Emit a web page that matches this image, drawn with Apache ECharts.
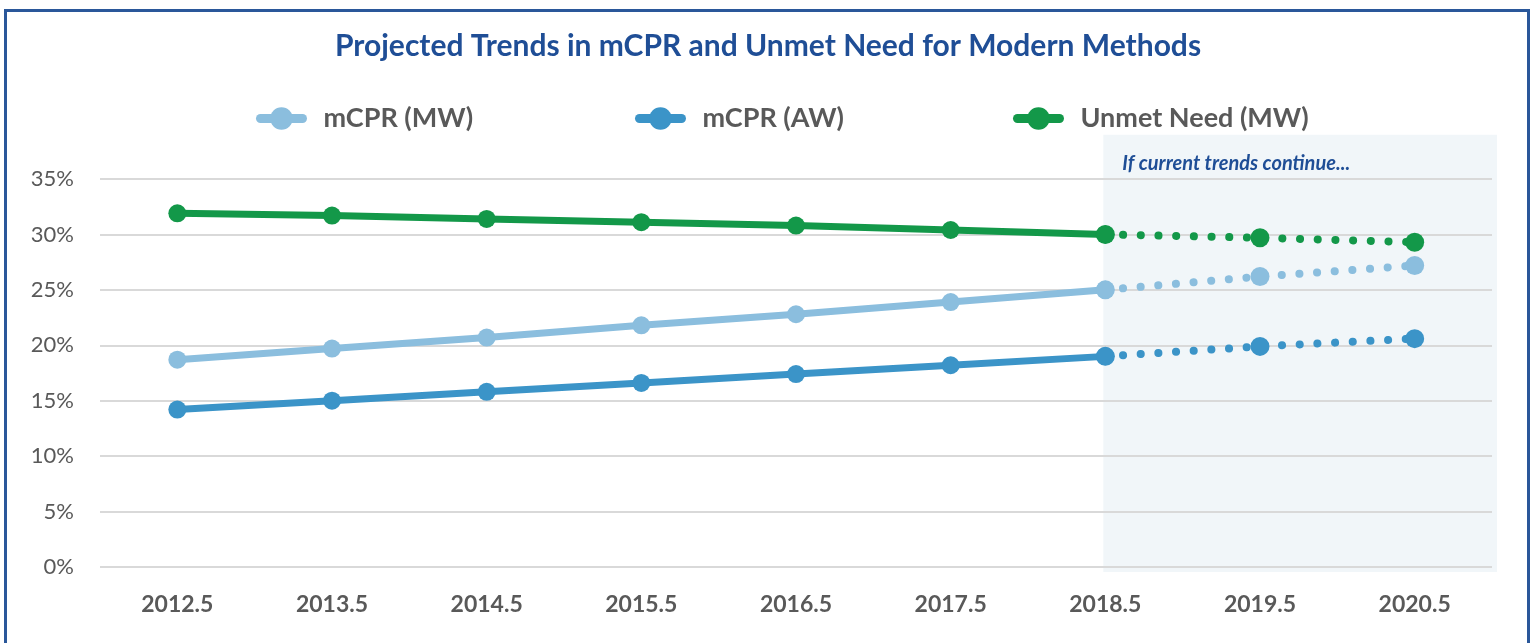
<!DOCTYPE html>
<html>
<head>
<meta charset="utf-8">
<script src="https://cdn.jsdelivr.net/npm/echarts@6/dist/echarts.min.js"></script>
<style>
html,body{margin:0;padding:0;background:#fff;}
#c{width:1536px;height:643px;}
</style>
</head>
<body>
<div id="c"></div>
<script>
const years = ['2012.5','2013.5','2014.5','2015.5','2016.5','2017.5','2018.5','2019.5','2020.5'];
const mcprMW = [18.7, 19.7, 20.7, 21.8, 22.8, 23.9, 25.0, 26.2, 27.2];
const mcprAW = [14.2, 15.0, 15.8, 16.6, 17.4, 18.2, 19.0, 19.9, 20.6];
const unmetMW = [31.9, 31.7, 31.4, 31.1, 30.8, 30.4, 30.0, 29.7, 29.3];
const yTicks = [0, 5, 10, 15, 20, 25, 30, 35];
const projectionStart = 6; // index of '2018.5'
const seriesNames = ['mCPR (MW)', 'mCPR (AW)', 'Unmet Need (MW)'];
const titleText = 'Projected Trends in mCPR and Unmet Need for Modern Methods';
const noteText = 'If current trends continue...';

const colors = ['#8BBEDE', '#3B94C8', '#139849'];
const FONT = 'Lato';

function actual(arr){ return arr.map((v,i)=> i<=projectionStart ? v : null); }
function projected(arr){ return arr.map((v,i)=> i>=projectionStart ? v : null); }

const dataSets = [mcprMW, mcprAW, unmetMW];
const series = [];
dataSets.forEach((arr, k) => {
  series.push({
    name: seriesNames[k], type: 'line', data: actual(arr),
    symbol: 'circle', symbolSize: 18, z: 3 + k,
    itemStyle: {color: colors[k]},
    lineStyle: {color: colors[k], width: 7},
    animation: false
  });
  series.push({
    name: seriesNames[k], type: 'line', data: projected(arr),
    symbol: 'circle', symbolSize: 19, z: 3 + k,
    itemStyle: {color: colors[k]},
    lineStyle: {color: colors[k], width: 8, type: [0.1, 17.6], cap: 'round'},
    animation: false
  });
});

const legendLefts = [251, 630, 1008];
const legends = seriesNames.map((n, i) => ({
  data: [n], left: legendLefts[i], top: 100,
  itemWidth: 42, itemHeight: 28,
  lineStyle: {width: 9, cap: 'round'},
  textStyle: {fontFamily: FONT, fontWeight: 'bold', fontSize: 27, color: '#595959', padding: [0,0,0,16]},
  selectedMode: false
}));

const chart = echarts.init(document.getElementById('c'), null, {renderer: 'canvas'});
chart.setOption({
  backgroundColor: '#fff',
  animation: false,
  title: {
    text: titleText, left: 'center', top: 26,
    textStyle: {fontFamily: FONT, fontWeight: 'bold', fontSize: 30, color: '#1F4E96'}
  },
  legend: legends,
  grid: {left: 100, right: 44, top: 179, bottom: 76},
  xAxis: {
    type: 'category', data: years, boundaryGap: true,
    axisLine: {show: false}, axisTick: {show: false},
    axisLabel: {fontFamily: FONT, fontWeight: 'bold', fontSize: 23, color: '#595959', margin: 26}
  },
  yAxis: {
    type: 'value', min: yTicks[0], max: yTicks[yTicks.length-1], interval: 5,
    axisLine: {show: false}, axisTick: {show: false},
    axisLabel: {fontFamily: FONT, fontSize: 22, color: '#595959', margin: 26, formatter: '{value}%'},
    splitLine: {lineStyle: {color: '#D9D9D9', width: 2}}
  },
  series: series
});

// Shaded "projection" region and note, positioned through the chart's scales
const x0 = chart.convertToPixel({xAxisIndex: 0}, years[projectionStart]);
const xEnd = chart.convertToPixel({xAxisIndex: 0}, years[years.length-1]);
const band = xEnd - chart.convertToPixel({xAxisIndex: 0}, years[years.length-2]);
const yTop = chart.convertToPixel({yAxisIndex: 0}, 39);
const yBot = chart.convertToPixel({yAxisIndex: 0}, 0);
chart.setOption({
  graphic: [
    {type: 'rect', z: -1, silent: true,
     shape: {x: x0 - 2, y: yTop, width: (xEnd + band/2 + 5) - (x0 - 2), height: yBot + 5 - yTop},
     style: {fill: '#F1F6F9'}},
    {type: 'text', z: 10, silent: true, left: x0 + 17, top: chart.convertToPixel({yAxisIndex: 0}, 36.4) - 10,
     style: {text: noteText, fill: '#1F4E96', font: 'italic bold 20px ' + FONT}},
    {type: 'rect', z: 20, silent: true,
     shape: {x: 5.5, y: 10.5, width: 1523, height: 660},
     style: {fill: 'none', stroke: '#2A579A', lineWidth: 3}}
  ]
});
</script>
</body>
</html>
